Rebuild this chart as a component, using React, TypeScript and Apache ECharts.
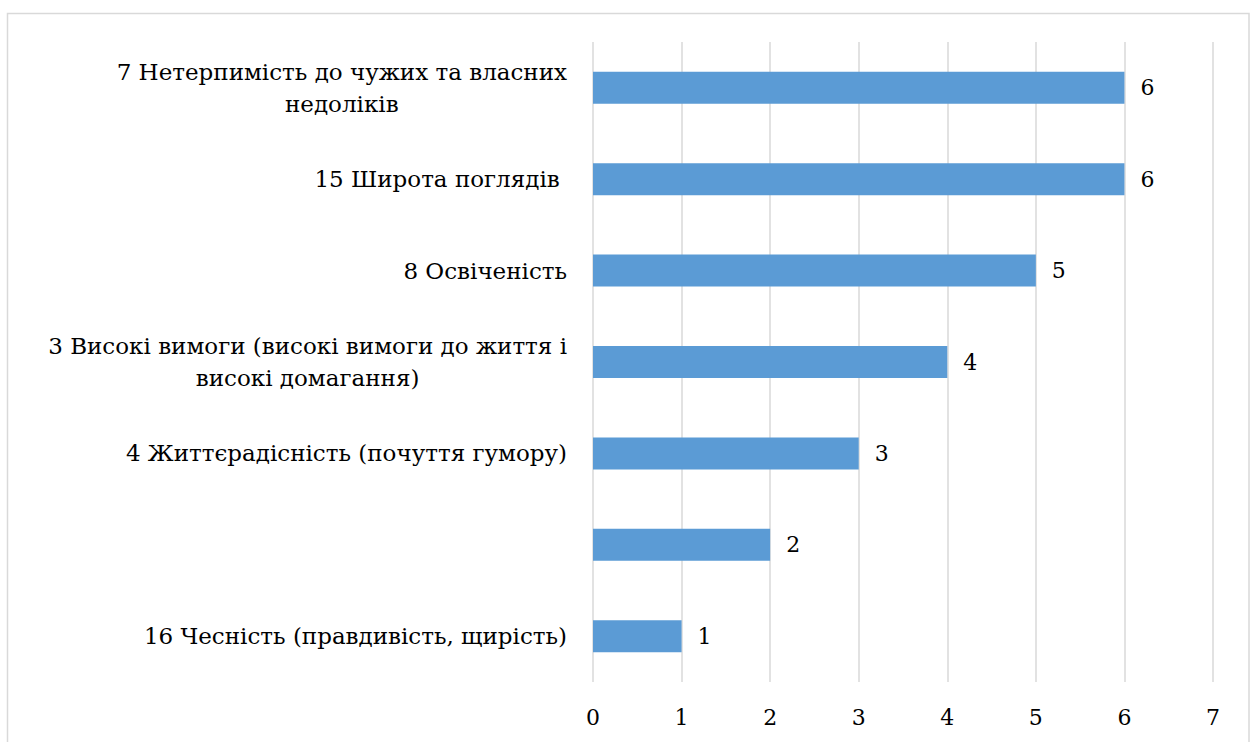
import React, { useEffect, useRef } from "react";
import * as echarts from "echarts";

const categories: string[] = [
  "7 Нетерпимість до чужих та власних\nнедоліків",
  "15 Широта поглядів ",
  "8 Освіченість",
  "3 Високі вимоги (високі вимоги до життя і\nвисокі домагання)",
  "4 Життєрадісність (почуття гумору)",
  "",
  "16 Чесність (правдивість, щирість)",
];
const values: number[] = [6, 6, 5, 4, 3, 2, 1];
const xTicks = { min: 0, max: 7, interval: 1 };

const FONT = "DejaVu Serif";
const FS = 23;

export default function App() {
  const ref = useRef<HTMLDivElement>(null);
  useEffect(() => {
    if (!ref.current) return;
    const chart = echarts.init(ref.current, undefined, { renderer: "svg" });
    chart.setOption({
      animation: false,
      backgroundColor: "#ffffff",
      textStyle: { fontFamily: FONT },
      graphic: [
        {
          type: "rect",
          shape: { x: 7.5, y: 13.5, width: 1241.5, height: 760 },
          style: { fill: "none", stroke: "#d9d9d9", lineWidth: 1.5 },
          silent: true,
        },
      ],
      grid: { left: 593, right: 42, top: 42, bottom: 60, containLabel: false },
      xAxis: {
        type: "value",
        min: xTicks.min,
        max: xTicks.max,
        interval: xTicks.interval,
        axisLine: { show: false },
        axisTick: { show: false },
        splitLine: { show: true, lineStyle: { color: "#d9d9d9", width: 1.5 } },
        axisLabel: {
          color: "#000",
          fontFamily: FONT,
          fontSize: 22,
          margin: 24,
        },
      },
      yAxis: {
        type: "category",
        inverse: true,
        data: categories,
        axisLine: { show: false },
        axisTick: { show: false },
        axisLabel: {
          color: "#000",
          fontFamily: FONT,
          fontSize: FS,
          margin: 26,
          align: "right",
          lineHeight: 32,
          formatter: (v: string) =>
            v
              .split("\n")
              .map((l) => (l ? `{c|${l}}` : ""))
              .join("\n"),
          rich: {
            c: {
              align: "center",
              color: "#000",
              fontFamily: FONT,
              fontSize: FS,
              lineHeight: 32,
            },
          },
        },
      },
      series: [
        {
          type: "bar",
          data: values,
          barWidth: "35%",
          itemStyle: { color: "#5b9bd5" },
          label: {
            show: true,
            position: "right",
            distance: 16,
            color: "#000",
            fontFamily: FONT,
            fontSize: 22,
          },
        },
      ],
    });
    return () => chart.dispose();
  }, []);
  return (
    <div
      ref={ref}
      style={{ position: "fixed", left: 0, top: 0, width: 1255, height: 742 }}
    />
  );
}
